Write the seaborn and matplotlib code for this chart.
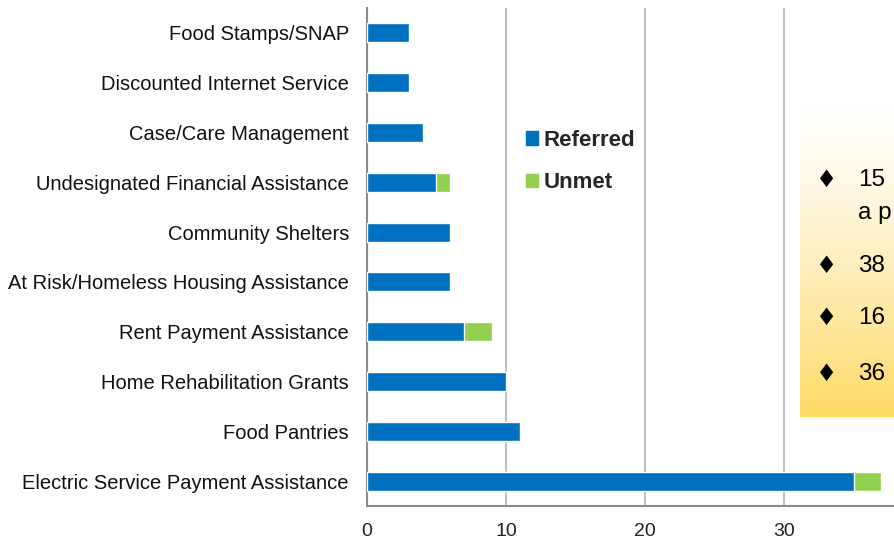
import numpy as np
import pandas as pd
import seaborn as sns
import matplotlib.pyplot as plt
from matplotlib.patches import Patch

# data
categories = [
    "Food Stamps/SNAP",
    "Discounted Internet Service",
    "Case/Care Management",
    "Undesignated Financial Assistance",
    "Community Shelters",
    "At Risk/Homeless Housing Assistance",
    "Rent Payment Assistance",
    "Home Rehabilitation Grants",
    "Food Pantries",
    "Electric Service Payment Assistance",
]
referred = [3, 3, 4, 5, 6, 6, 7, 10, 11, 35]
unmet = [0, 0, 0, 1, 0, 0, 2, 0, 0, 2]
x_ticks = [0, 10, 20, 30]
note_lines = ["15", "a p", "38", "16", "36"]

BLUE = "#0070C0"
GREEN = "#92D050"
GRID = "#BFBFBF"

df = pd.DataFrame({"category": categories, "referred": referred, "unmet": unmet})
df["total"] = df["referred"] + df["unmet"]

sns.set_style("white")
plt.rcParams["font.family"] = ["Liberation Sans", "DejaVu Sans"]

fig = plt.figure(figsize=(8.95, 5.46), dpi=100)
ax = fig.add_axes([367 / 895, 1 - 506 / 546, 556 / 895, 498 / 546])

# stacked: total in green underneath, referred in blue on top
sns.barplot(data=df, x="total", y="category", color=GREEN, width=0.38,
            saturation=1, ax=ax, zorder=3)
sns.barplot(data=df, x="referred", y="category", color=BLUE, width=0.38,
            saturation=1, ax=ax, zorder=4)

ax.set_xlim(0, 40)
ax.set_ylim(9.5, -0.5)
ax.set_xlabel("")
ax.set_ylabel("")
ax.set_xticks(x_ticks)
ax.set_xticklabels([str(t) for t in x_ticks], fontsize=14, color="#222222")
ax.xaxis.grid(True, color=GRID, lw=1.5, zorder=0)
ax.set_axisbelow(True)

# category ticks sit between bars
ax.set_yticks(range(len(categories)))
ax.set_yticklabels(categories, fontsize=14.5, color="#111111")
ax.tick_params(axis="y", length=0, pad=13)
ax.set_yticks(np.arange(-0.5, len(categories), 1), minor=True)
ax.tick_params(axis="y", which="minor", length=5, color="#808080", width=1.2)
ax.tick_params(axis="x", length=5, color="#808080", width=1.2, pad=7)

for s in ["top", "right"]:
    ax.spines[s].set_visible(False)
for s in ["left", "bottom"]:
    ax.spines[s].set_color("#8C8C8C")
    ax.spines[s].set_linewidth(1.5)

handles = [Patch(color=BLUE, label="Referred"), Patch(color=GREEN, label="Unmet")]
fig.legend(handles=handles, loc="upper left", bbox_to_anchor=(526 / 895, 1 - 130 / 546),
           frameon=False, prop={"weight": "bold", "size": 16}, handlelength=0.55,
           handleheight=0.55, handletextpad=0.25, labelspacing=0.95, borderpad=0,
           borderaxespad=0)

# gradient note box on the right, cut off by the figure edge
box = fig.add_axes([800 / 895, 1 - 417 / 546, 0.2, 317 / 546])
grad = np.linspace(0, 1, 256).reshape(-1, 1)
top = np.array([1.0, 1.0, 1.0])
bottom = np.array([1.0, 0.855, 0.40])
img = top + (bottom - top) * (grad ** 1.3)[..., None]
box.imshow(img, aspect="auto", extent=[0, 1, 0, 1], origin="upper")
box.set_axis_off()

ys = [180, 266, 318, 374]
for y, line in zip(ys, [note_lines[0], note_lines[2], note_lines[3], note_lines[4]]):
    fig.text(815 / 895, 1 - y / 546, "\u2666", fontsize=17, va="center", ha="left",
             family=["DejaVu Sans"], color="black")
    fig.text(858 / 895, 1 - y / 546, line, fontsize=17.5, va="center", ha="left",
             color="black")
fig.text(858 / 895, 1 - 213 / 546, note_lines[1], fontsize=17.5, va="center", ha="left",
         color="black")

fig.savefig("out.png", dpi=100)
